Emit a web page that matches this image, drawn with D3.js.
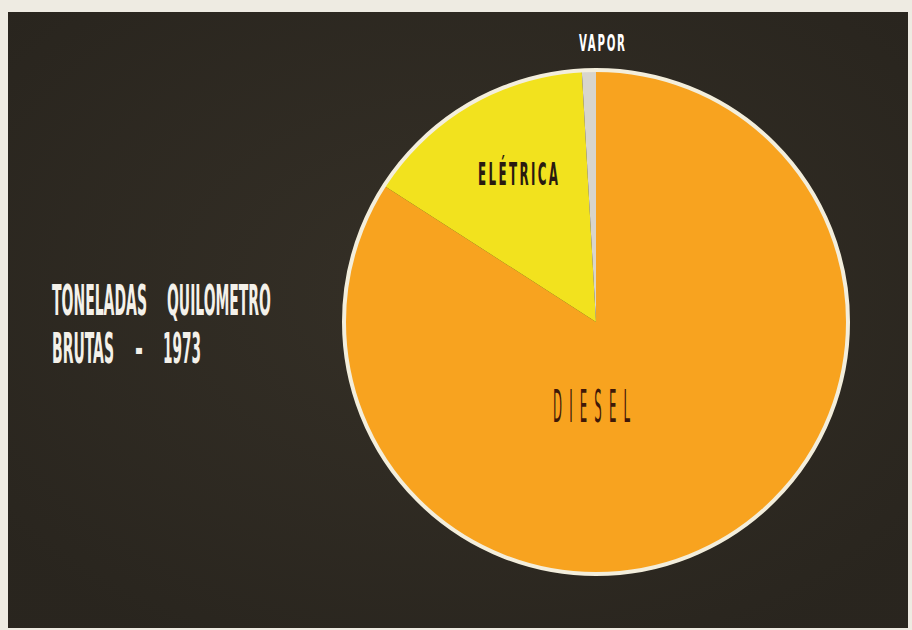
<!DOCTYPE html>
<html>
<head>
<meta charset="utf-8">
<script src="https://cdn.jsdelivr.net/npm/d3@7"></script>
<style>
html,body{margin:0;padding:0;background:#eeebe2;}
svg{display:block;}
</style>
</head>
<body>
<svg id="chart" width="912" height="630"></svg>
<script>
// Data (share of gross ton-km, 1973)
const categories = ["DIESEL", "ELÉTRICA", "VAPOR"];
const values = [84.1, 15.0, 0.9];
const colors = ["#f8a31f", "#f2e21e", "#d8d5cc"];
const titleLines = [["TONELADAS", "QUILOMETRO"], ["BRUTAS", "-", "1973"]];

const svg = d3.select("#chart");

// dark photo background
svg.append("rect").attr("x", 8).attr("y", 12).attr("width", 900).attr("height", 616)
  .attr("fill", "#2e2a22");
const defs = svg.append("defs");
const rg = defs.append("radialGradient").attr("id", "bg").attr("cx", "50%").attr("cy", "45%").attr("r", "65%");
rg.append("stop").attr("offset", "0%").attr("stop-color", "#3a342a").attr("stop-opacity", 0.6);
rg.append("stop").attr("offset", "100%").attr("stop-color", "#26221c").attr("stop-opacity", 0.6);
svg.append("rect").attr("x", 8).attr("y", 12).attr("width", 900).attr("height", 616)
  .attr("fill", "url(#bg)");

const cx = 596, cy = 322, R = 252;
const pie = d3.pie().sort(null).value(d => d)(values);
const arc = d3.arc().innerRadius(0).outerRadius(R);

const g = svg.append("g").attr("transform", `translate(${cx},${cy})`);
g.selectAll("path.slice").data(pie).join("path")
  .attr("class", "slice")
  .attr("d", arc)
  .attr("fill", (d, i) => colors[i]);

// outer cream rim
g.append("circle").attr("r", R).attr("fill", "none")
  .attr("stroke", "#f3eedc").attr("stroke-width", 4);

const FONT = "'DejaVu Sans Condensed','Liberation Sans Narrow','DejaVu Sans',sans-serif";

// text placed at (x, baseline y), condensed horizontally to a target width
function label(txt, x, y, size, len, fill, weight, lsEm) {
  const grp = svg.append("g");
  const lsPx = lsEm * size;
  const t = grp.append("text")
    .attr("x", 0).attr("y", 0)
    .attr("font-family", FONT)
    .attr("font-size", size)
    .attr("font-weight", weight)
    .attr("letter-spacing", lsPx)
    .attr("fill", fill)
    .text(txt);
  const natural = t.node().getComputedTextLength() - lsPx; // drop trailing spacing
  const sx = len / natural;
  grp.attr("transform", `translate(${x},${y}) scale(${sx},1)`);
}

label(categories[0], 553, 422, 44, 77, "#3f1808", "normal", 0.55);
label(categories[1], 478, 185, 32, 80, "#2a1a10", "bold", 0.18);
label(categories[2], 579, 51, 23, 46, "#ffffff", "bold", 0.15);

// title
const titlePos = [
  [{x: 52, len: 95}, {x: 167, len: 104}],
  [{x: 52, len: 62}, {x: 135, len: 8}, {x: 163, len: 38}]
];
const baselines = [315, 363];
titleLines.forEach((line, li) => {
  line.forEach((w, wi) => {
    label(w, titlePos[li][wi].x, baselines[li], 43, titlePos[li][wi].len, "#f4f1ea", "bold", 0);
  });
});
</script>
</body>
</html>
